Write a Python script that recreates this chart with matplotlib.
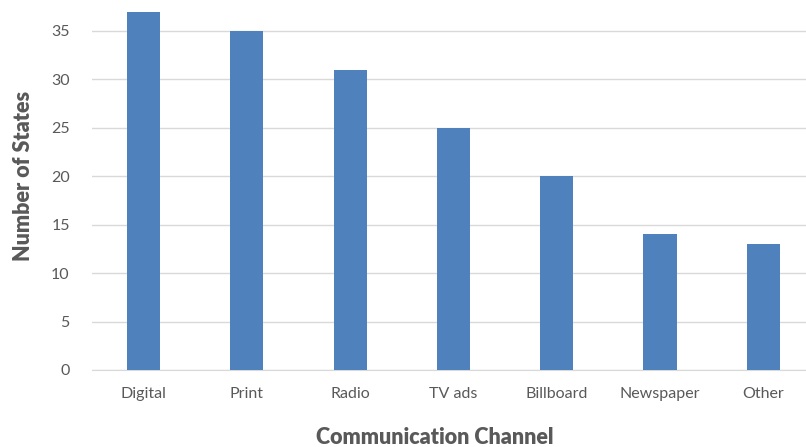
import matplotlib.pyplot as plt

channels = ['Digital', 'Print', 'Radio', 'TV ads', 'Billboard', 'Newspaper', 'Other']
states = [37, 35, 31, 25, 20, 14, 13]
yticks = [0, 5, 10, 15, 20, 25, 30, 35]

plt.rcParams['font.family'] = ['Lato', 'DejaVu Sans']
grey = '#595959'

fig = plt.figure(figsize=(8.06, 4.47), dpi=100)
# axes run a little past the right/top edge of the canvas
ax = fig.add_axes([0.1141, 0.1723, 0.897, 0.8667])

x = range(len(channels))
ax.bar(x, states, width=0.32, color='#4f81bd', zorder=3)

ax.set_xlim(-0.5, len(channels) - 0.5)
ax.set_ylim(0, 40)
ax.set_yticks(yticks)
ax.set_xticks(list(x))
ax.set_xticklabels(channels)
ax.tick_params(axis='both', length=0, labelsize=11.5, labelcolor=grey)
ax.tick_params(axis='x', pad=12)
ax.tick_params(axis='y', pad=16)

ax.grid(axis='y', color='#d9d9d9', linewidth=1, zorder=0)
for s in ['top', 'right', 'left']:
    ax.spines[s].set_visible(False)
ax.spines['bottom'].set_color('#d9d9d9')

ax.set_ylabel('Number of States', fontsize=15.5, fontweight='heavy', color=grey, labelpad=12)
fig.text(435 / 806, 1 - 437 / 447, 'Communication Channel', fontsize=15.5,
         fontweight='heavy', color=grey, ha='center', va='center')

fig.savefig('out.png', dpi=100)
